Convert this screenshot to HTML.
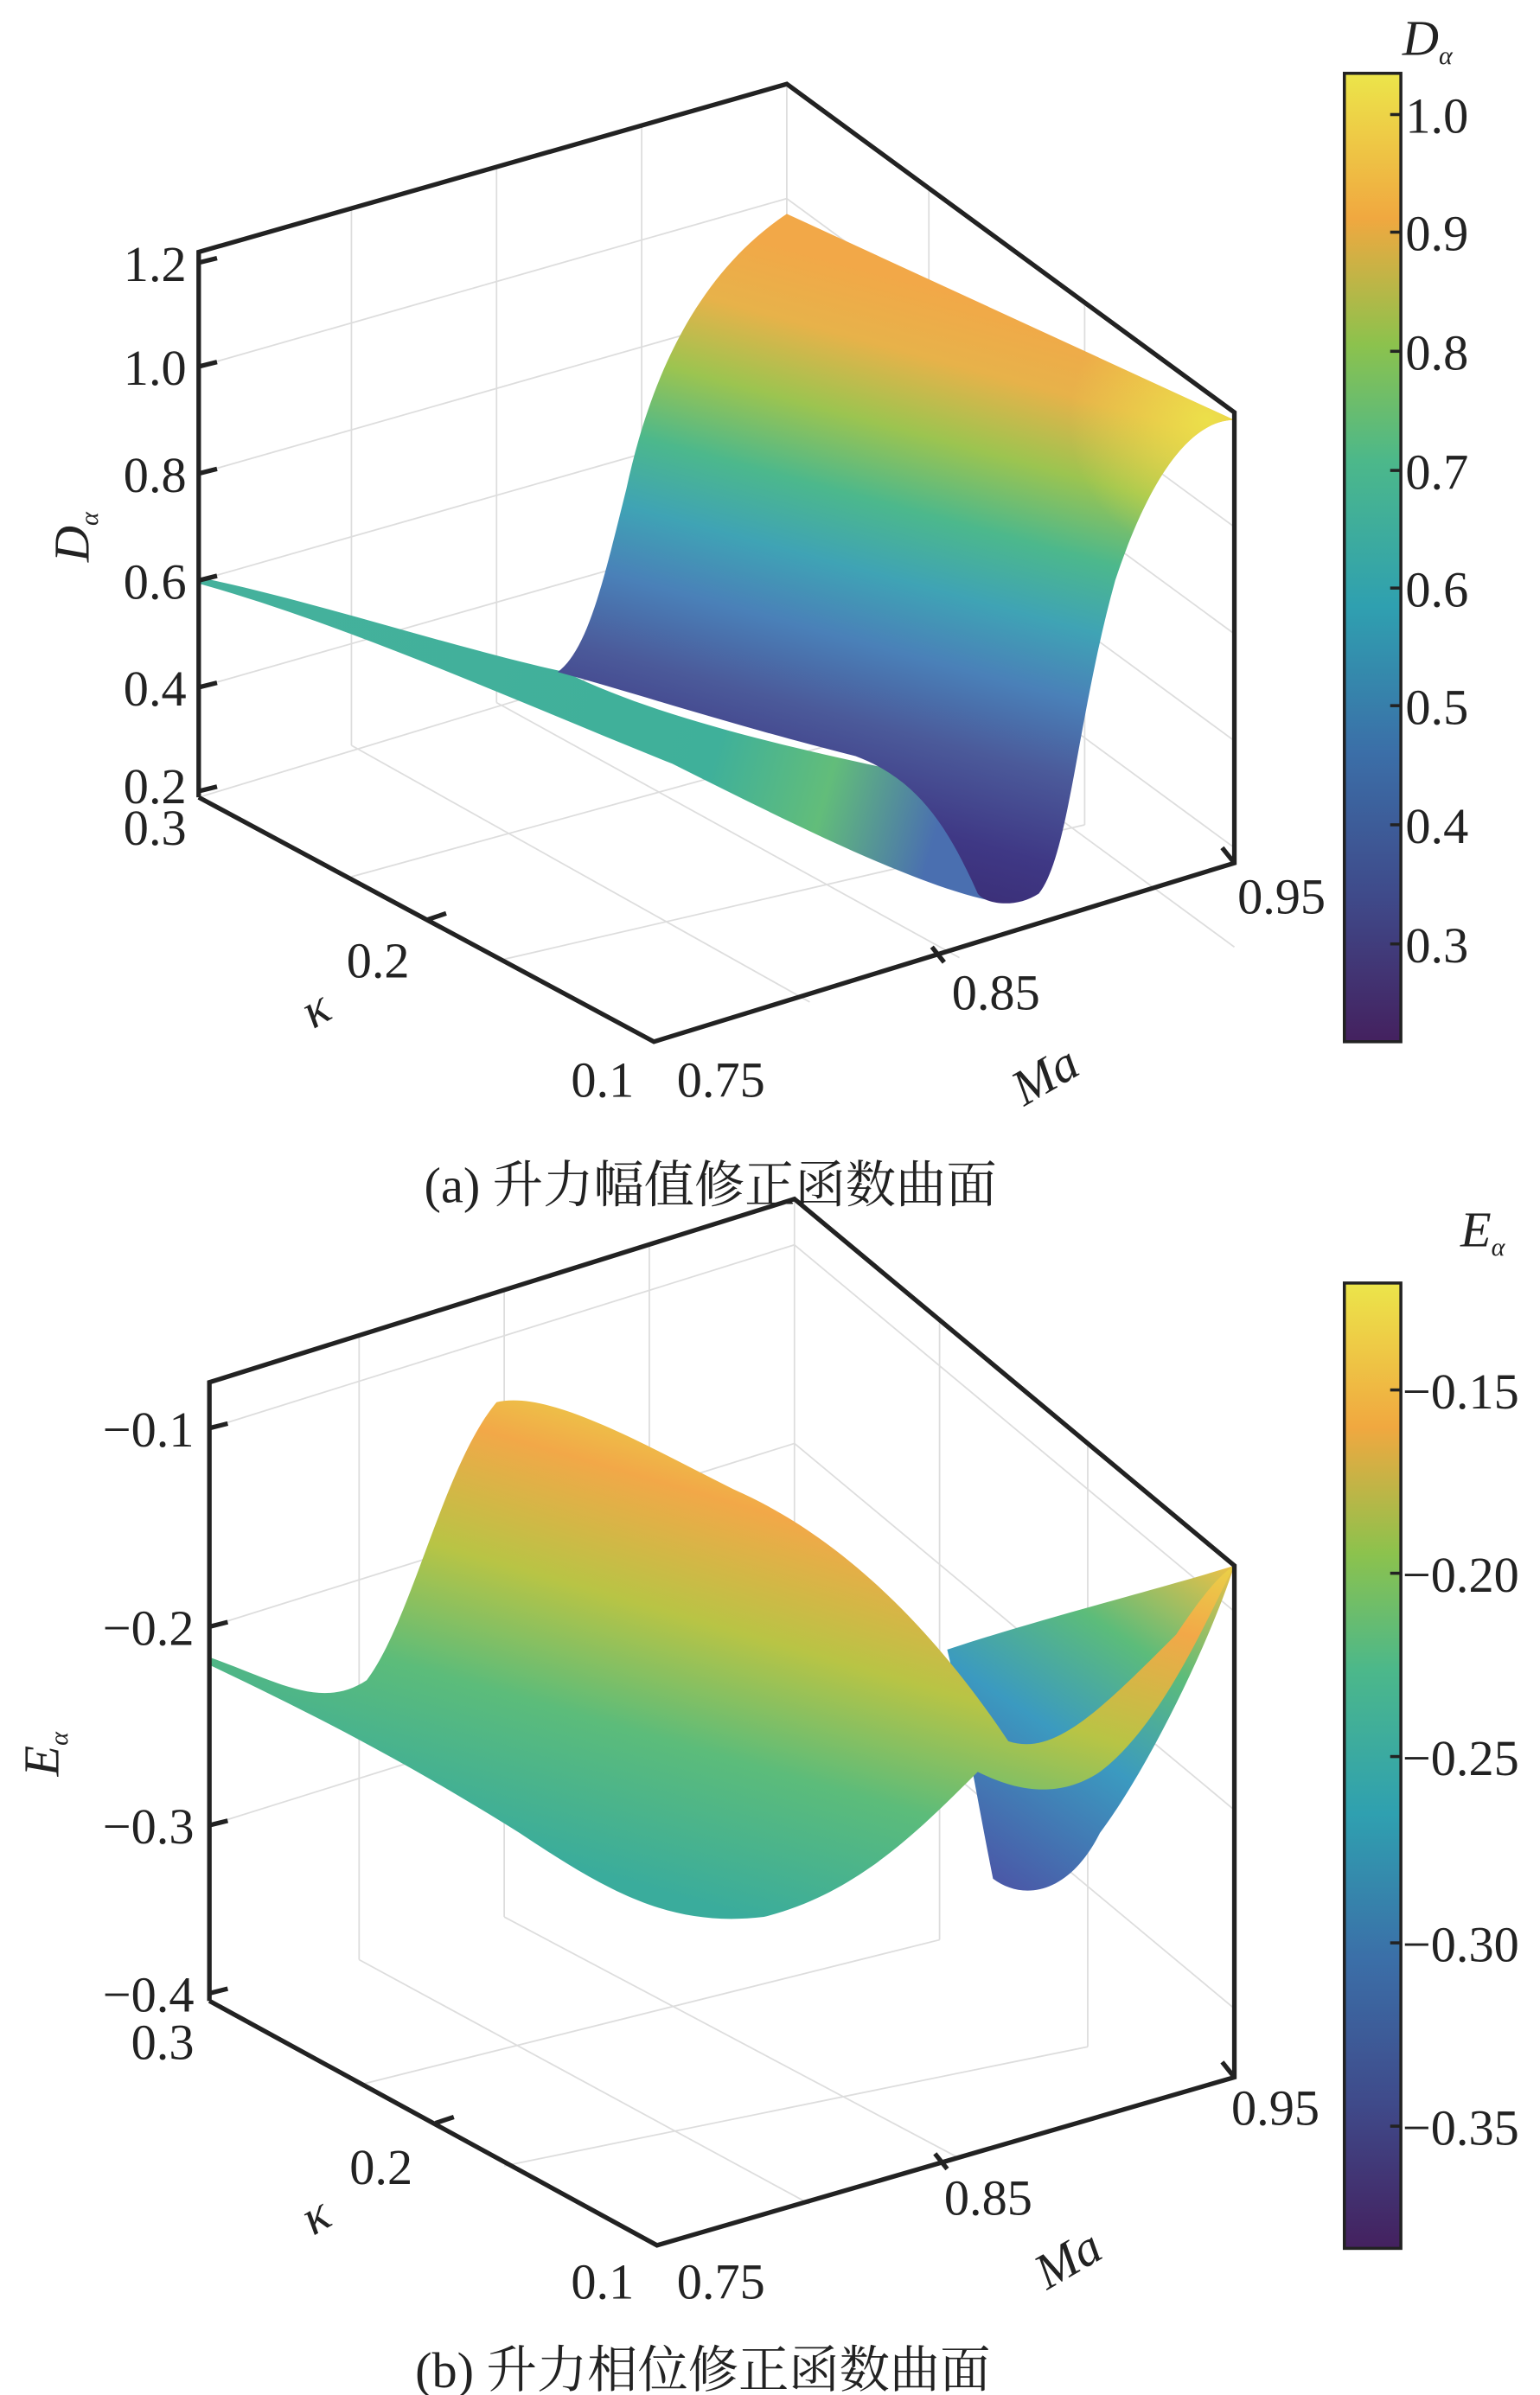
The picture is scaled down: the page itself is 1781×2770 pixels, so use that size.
<!DOCTYPE html>
<html><head><meta charset="utf-8"><style>
html,body{margin:0;padding:0;background:#fff;}
svg{display:block;}
text{font-family:"Liberation Serif","Noto Serif CJK SC",serif;fill:#222;}
</style></head><body>
<svg width="1781" height="2770" viewBox="0 0 1008 1568" xmlns="http://www.w3.org/2000/svg">
<defs>
<linearGradient id="vir" x1="0" y1="1" x2="0" y2="0">
<stop offset="0" stop-color="#44215f"/><stop offset="0.15" stop-color="#3f4a8a"/><stop offset="0.3" stop-color="#3b6fa8"/><stop offset="0.45" stop-color="#2fa0b0"/><stop offset="0.6" stop-color="#4cb88a"/><stop offset="0.72" stop-color="#8cc24d"/><stop offset="0.85" stop-color="#f0a840"/><stop offset="1" stop-color="#ece54a"/>
</linearGradient>
<linearGradient id="ga" gradientUnits="userSpaceOnUse" x1="620" y1="190" x2="520" y2="560">
<stop offset="0" stop-color="#f2a848"/><stop offset="0.12" stop-color="#e7b24a"/><stop offset="0.25" stop-color="#9cc450"/><stop offset="0.38" stop-color="#4cb88c"/><stop offset="0.5" stop-color="#3fa3b5"/><stop offset="0.62" stop-color="#4a80b8"/><stop offset="0.75" stop-color="#4b5a9a"/><stop offset="0.9" stop-color="#3f3885"/><stop offset="1" stop-color="#3b2f78"/>
</linearGradient>
<radialGradient id="ya" gradientUnits="userSpaceOnUse" cx="790" cy="275" r="90">
<stop offset="0" stop-color="#ece54a" stop-opacity="0.9"/><stop offset="1" stop-color="#ece54a" stop-opacity="0"/>
</radialGradient>
<linearGradient id="wa" gradientUnits="userSpaceOnUse" x1="130" y1="380" x2="620" y2="520">
<stop offset="0" stop-color="#45b19c"/><stop offset="0.7" stop-color="#3fb09a"/><stop offset="0.85" stop-color="#62bd7a"/><stop offset="1" stop-color="#4a6fb0"/>
</linearGradient>
<linearGradient id="gb" gradientUnits="userSpaceOnUse" x1="560" y1="940" x2="470" y2="1250">
<stop offset="0" stop-color="#e8dc48"/><stop offset="0.2" stop-color="#f2a848"/><stop offset="0.45" stop-color="#b8c445"/><stop offset="0.7" stop-color="#5cbc7a"/><stop offset="1" stop-color="#3aac9c"/>
</linearGradient>
<linearGradient id="vb" gradientUnits="userSpaceOnUse" x1="808" y1="1030" x2="670" y2="1240">
<stop offset="0" stop-color="#e8c048"/><stop offset="0.3" stop-color="#5cbc7a"/><stop offset="0.6" stop-color="#3b9ac0"/><stop offset="1" stop-color="#4a5aa8"/>
</linearGradient>
</defs>
<g stroke="#ddd" stroke-width="1" fill="none">
<line x1="230" y1="137" x2="230" y2="488"/><line x1="325" y1="110" x2="325" y2="460"/><line x1="420" y1="82" x2="420" y2="432"/><line x1="515" y1="55" x2="515" y2="405"/>
<line x1="608" y1="123" x2="608" y2="470"/><line x1="710" y1="198" x2="710" y2="540"/>
<line x1="130" y1="450" x2="515" y2="340"/><line x1="130" y1="380" x2="515" y2="270"/><line x1="130" y1="310" x2="515" y2="200"/><line x1="130" y1="240" x2="515" y2="130"/>
<line x1="515" y1="340" x2="808" y2="555"/><line x1="515" y1="270" x2="808" y2="485"/><line x1="515" y1="200" x2="808" y2="415"/><line x1="515" y1="130" x2="808" y2="345"/>
<line x1="515" y1="405" x2="808" y2="620"/><line x1="130" y1="522" x2="515" y2="405"/>
<line x1="230" y1="488" x2="530" y2="656"/><line x1="325" y1="460" x2="628" y2="627"/><line x1="230" y1="574" x2="608" y2="470"/><line x1="330" y1="628" x2="710" y2="540"/>
<line x1="235" y1="875" x2="235" y2="1283"/><line x1="330" y1="845" x2="330" y2="1255"/><line x1="425" y1="815" x2="425" y2="1225"/><line x1="520" y1="785" x2="520" y2="1197"/>
<line x1="615" y1="865" x2="615" y2="1270"/><line x1="712" y1="945" x2="712" y2="1340"/>
<line x1="137" y1="935" x2="520" y2="815"/><line x1="137" y1="1065" x2="520" y2="945"/><line x1="137" y1="1195" x2="520" y2="1075"/>
<line x1="520" y1="815" x2="808" y2="1055"/><line x1="520" y1="945" x2="808" y2="1185"/><line x1="520" y1="1075" x2="808" y2="1315"/>
<line x1="235" y1="1283" x2="530" y2="1443"/><line x1="330" y1="1255" x2="628" y2="1413"/><line x1="235" y1="1365" x2="615" y2="1270"/><line x1="330" y1="1418" x2="712" y2="1340"/>
</g>
<path d="M130,378 C200,392 300,425 370,440 C430,470 520,490 590,505 C620,520 640,560 650,590 C600,580 520,540 440,500 C340,460 230,410 130,382 Z" fill="url(#wa)"/>
<path d="M515,140 L808,275 C790,275 760,290 730,380 C705,470 700,560 680,585 C665,595 645,592 640,585 C620,540 600,510 560,495 C480,475 420,455 365,440 C385,425 395,380 410,320 C425,250 455,180 515,140 Z" fill="url(#ga)"/>
<path d="M515,140 L808,275 C790,275 760,290 730,380 C705,470 700,560 680,585 L640,585 C620,540 600,510 560,495 L365,440 C410,320 455,180 515,140 Z" fill="url(#ya)"/>
<path d="M620,1080 C680,1060 760,1040 808,1025 C790,1080 750,1160 720,1200 C700,1240 670,1245 650,1230 C640,1180 630,1120 620,1080 Z" fill="url(#vb)"/>
<path d="M137,1085 C180,1100 210,1120 240,1100 C270,1060 290,960 325,918 C360,910 420,945 480,975 C560,1010 620,1080 660,1140 C690,1150 720,1120 770,1070 C790,1040 800,1030 808,1025 C790,1060 760,1130 720,1160 C690,1180 660,1170 640,1160 C600,1200 560,1240 500,1255 C440,1262 400,1240 340,1200 C260,1150 200,1120 137,1090 Z" fill="url(#gb)"/>
<g stroke="#222" stroke-width="3" fill="none">
<polyline points="130,522 130,165 515,55 808,270 808,565 428,682 130,522"/>
<polyline points="137,1310 137,905 520,785 808,1025 808,1360 430,1470 137,1310"/>
</g>
<g stroke="#222" stroke-width="3">
<line x1="130" y1="172" x2="142" y2="169"/><line x1="130" y1="240" x2="142" y2="237"/><line x1="130" y1="310" x2="142" y2="307"/><line x1="130" y1="380" x2="142" y2="377"/><line x1="130" y1="450" x2="142" y2="447"/><line x1="130" y1="518" x2="142" y2="515"/>
<line x1="280" y1="602" x2="292" y2="598"/><line x1="610" y1="620" x2="618" y2="630"/><line x1="808" y1="565" x2="800" y2="555"/>
<line x1="137" y1="935" x2="149" y2="932"/><line x1="137" y1="1065" x2="149" y2="1062"/><line x1="137" y1="1195" x2="149" y2="1192"/><line x1="137" y1="1305" x2="149" y2="1302"/>
<line x1="285" y1="1390" x2="297" y2="1386"/><line x1="612" y1="1410" x2="620" y2="1420"/><line x1="808" y1="1360" x2="800" y2="1350"/>
</g>
<g font-size="33">
<text x="122" y="184" text-anchor="end">1.2</text><text x="122" y="252" text-anchor="end">1.0</text><text x="122" y="322" text-anchor="end">0.8</text><text x="122" y="392" text-anchor="end">0.6</text><text x="122" y="462" text-anchor="end">0.4</text><text x="122" y="526" text-anchor="end">0.2</text>
<text x="122" y="553" text-anchor="end">0.3</text><text x="268" y="640" text-anchor="end">0.2</text><text x="415" y="718" text-anchor="end">0.1</text>
<text x="443" y="718">0.75</text><text x="623" y="661">0.85</text><text x="810" y="598">0.95</text>
<text x="127" y="947" text-anchor="end">−0.1</text><text x="127" y="1077" text-anchor="end">−0.2</text><text x="127" y="1207" text-anchor="end">−0.3</text><text x="127" y="1317" text-anchor="end">−0.4</text>
<text x="127" y="1348" text-anchor="end">0.3</text><text x="270" y="1430" text-anchor="end">0.2</text><text x="415" y="1505" text-anchor="end">0.1</text>
<text x="443" y="1505">0.75</text><text x="618" y="1450">0.85</text><text x="806" y="1391">0.95</text>
<text x="920" y="87">1.0</text><text x="920" y="164">0.9</text><text x="920" y="242">0.8</text><text x="920" y="320">0.7</text><text x="920" y="397">0.6</text><text x="920" y="474">0.5</text><text x="920" y="552">0.4</text><text x="920" y="630">0.3</text>
<text x="918" y="922">−0.15</text><text x="918" y="1042">−0.20</text><text x="918" y="1162">−0.25</text><text x="918" y="1284">−0.30</text><text x="918" y="1404">−0.35</text>
<text x="198" y="672" font-style="italic" transform="rotate(-30 205 660)">κ</text>
<text x="662" y="717" font-style="italic" transform="rotate(-30 680 705)">Ma</text>
<text x="198" y="1462" font-style="italic" transform="rotate(-30 205 1450)">κ</text>
<text x="677" y="1492" font-style="italic" transform="rotate(-30 695 1480)">Ma</text>
<text x="0" y="0" font-style="italic" transform="translate(58,368) rotate(-90)">D<tspan font-size="17" dy="6">α</tspan></text>
<text x="0" y="0" font-style="italic" transform="translate(38,1163) rotate(-90)">E<tspan font-size="17" dy="6">α</tspan></text>
<text x="918" y="36" font-style="italic">D<tspan font-size="17" dy="6">α</tspan></text>
<text x="956" y="816" font-style="italic">E<tspan font-size="17" dy="6">α</tspan></text>
<text x="465" y="787" text-anchor="middle">(a) 升力幅值修正函数曲面</text>
<text x="460" y="1563" text-anchor="middle">(b) 升力相位修正函数曲面</text>
</g>
<rect x="880" y="48" width="37" height="634" fill="url(#vir)" stroke="#222" stroke-width="2"/>
<rect x="880" y="840" width="37" height="632" fill="url(#vir)" stroke="#222" stroke-width="2"/>
<g stroke="#222" stroke-width="2">
<line x1="910" y1="75" x2="917" y2="75"/><line x1="910" y1="152" x2="917" y2="152"/><line x1="910" y1="230" x2="917" y2="230"/><line x1="910" y1="308" x2="917" y2="308"/><line x1="910" y1="385" x2="917" y2="385"/><line x1="910" y1="462" x2="917" y2="462"/><line x1="910" y1="540" x2="917" y2="540"/><line x1="910" y1="618" x2="917" y2="618"/>
<line x1="910" y1="910" x2="917" y2="910"/><line x1="910" y1="1030" x2="917" y2="1030"/><line x1="910" y1="1150" x2="917" y2="1150"/><line x1="910" y1="1272" x2="917" y2="1272"/><line x1="910" y1="1392" x2="917" y2="1392"/>
</g>
</svg>
</body></html>
